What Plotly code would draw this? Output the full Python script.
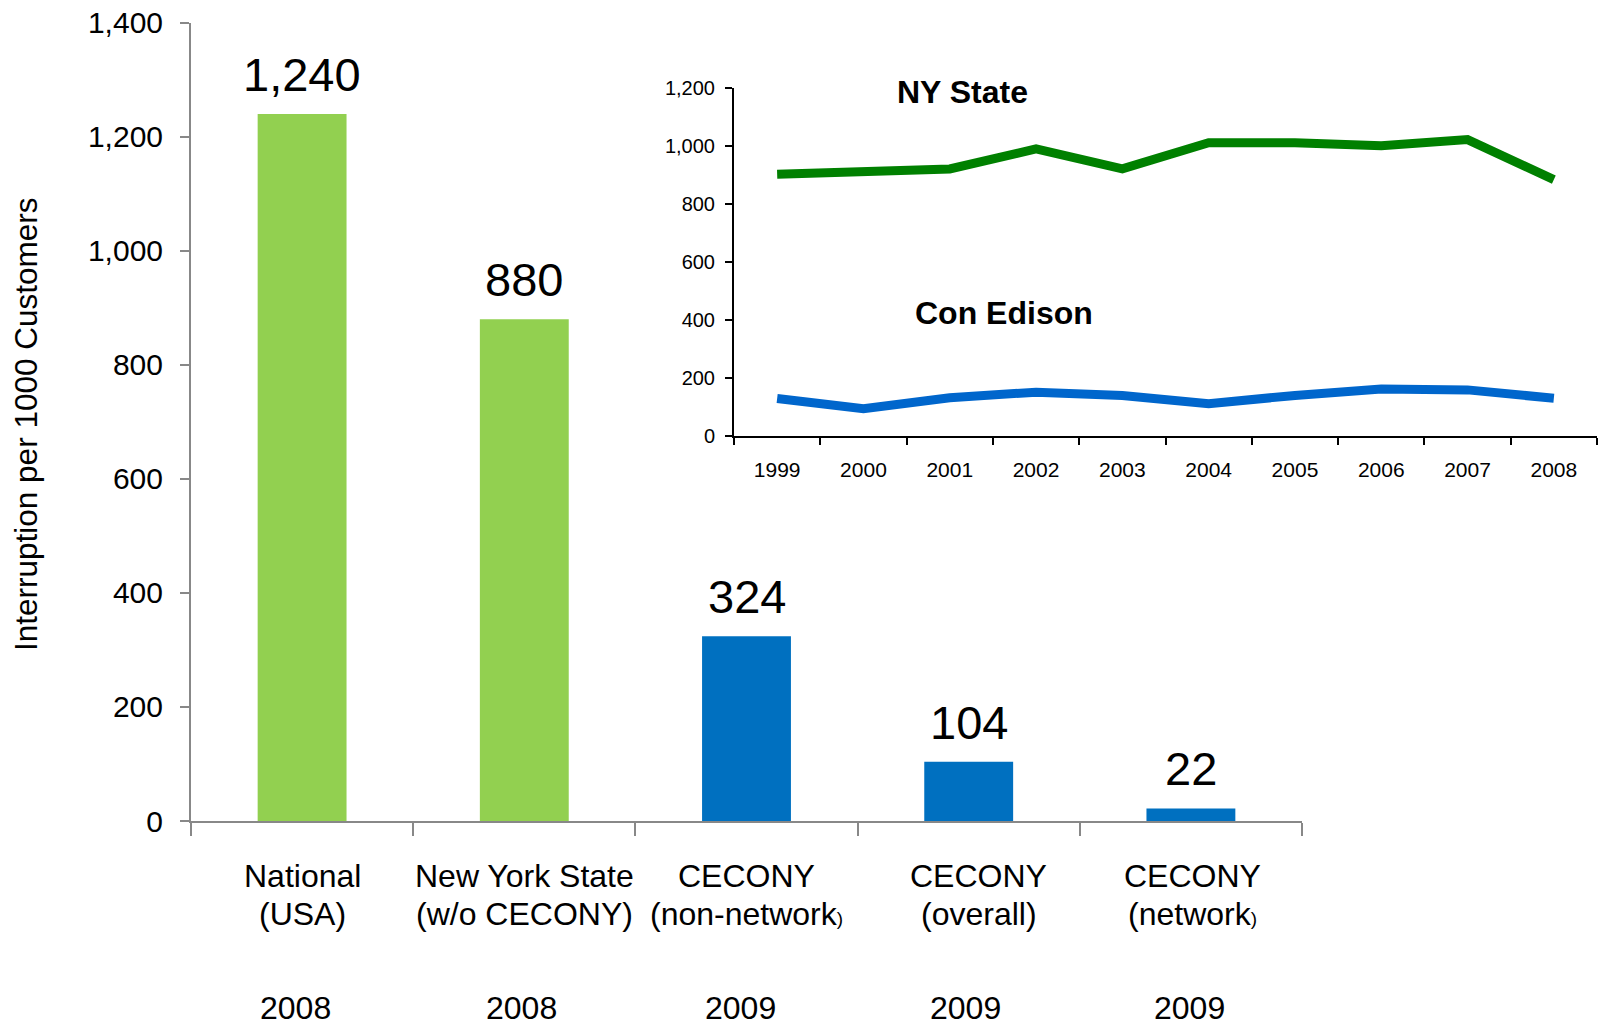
import plotly.graph_objects as go

# ---- main bar chart data ----
bar_categories = ["National (USA)", "New York State (w/o CECONY)", "CECONY (non-network)",
                  "CECONY (overall)", "CECONY (network)"]
bar_values = [1240, 880, 324, 104, 22]
bar_colors = ["#92D050", "#92D050", "#0070C0", "#0070C0", "#0070C0"]
label_line1 = ["National", "New York State", "CECONY", "CECONY", "CECONY"]
label_line2 = ["(USA)", "(w/o CECONY)", "(non-network<span style='font-size:19px'>)</span>",
               "(overall)", "(network<span style='font-size:19px'>)</span>"]
label_years = ["2008", "2008", "2009", "2009", "2009"]
main_yticks = [0, 200, 400, 600, 800, 1000, 1200, 1400]

# ---- inset line chart data ----
inset_years = ["1999", "2000", "2001", "2002", "2003", "2004", "2005", "2006", "2007", "2008"]
ny_state = [903, 912, 921, 990, 921, 1011, 1011, 1001, 1022, 884]
con_edison = [129, 94, 132, 151, 140, 111, 140, 162, 159, 130]
inset_yticks = [0, 200, 400, 600, 800, 1000, 1200]

FONT = "Liberation Sans, Arial, sans-serif"
W, H = 1598, 1026

fig = go.Figure()

fig.add_trace(go.Bar(
    x=bar_categories, y=bar_values, marker=dict(color=bar_colors, line=dict(width=0)),
    width=0.4, xaxis="x", yaxis="y", showlegend=False, hoverinfo="x+y",
))

fig.add_trace(go.Scatter(
    x=inset_years, y=ny_state, mode="lines", line=dict(color="#008000", width=9),
    xaxis="x2", yaxis="y2", showlegend=False, name="NY State",
))
fig.add_trace(go.Scatter(
    x=inset_years, y=con_edison, mode="lines", line=dict(color="#0066CC", width=9),
    xaxis="x2", yaxis="y2", showlegend=False, name="Con Edison",
))

annotations = []
# bar value labels
for c, v in zip(bar_categories, bar_values):
    annotations.append(dict(
        x=c, y=v, xref="x", yref="y", text=f"{v:,}", showarrow=False,
        yanchor="bottom", yshift=11, font=dict(family=FONT, size=47, color="black"),
    ))
# category labels
xshifts = [0, 0, 0, 10, 2]
yshifts = [-7, -3, -6, -3, -1]
for c, l1, l2, yr, xs, ys in zip(bar_categories, label_line1, label_line2, label_years, xshifts, yshifts):
    annotations.append(dict(x=c, y=1 - 876 / H, xref="x", yref="paper", text=l1, showarrow=False,
                            yanchor="middle", xshift=xs, font=dict(family=FONT, size=32, color="black")))
    annotations.append(dict(x=c, y=1 - 914 / H, xref="x", yref="paper", text=l2, showarrow=False,
                            yanchor="middle", xshift=xs, font=dict(family=FONT, size=32, color="black")))
    annotations.append(dict(x=c, y=1 - 1008 / H, xref="x", yref="paper", text=yr, showarrow=False,
                            yanchor="middle", xshift=ys, font=dict(family=FONT, size=32, color="black")))
# y axis title
annotations.append(dict(x=25.5 / W, y=1 - 424.5 / H, xref="paper", yref="paper",
                        text="Interruption per 1000 Customers", textangle=-90, showarrow=False,
                        xanchor="center", yanchor="middle",
                        font=dict(family=FONT, size=31.5, color="black")))
# inset series labels
annotations.append(dict(x=962 / W, y=1 - 91.7 / H, xref="paper", yref="paper", text="<b>NY State</b>",
                        showarrow=False, xanchor="center", yanchor="middle",
                        font=dict(family=FONT, size=32, color="black")))
annotations.append(dict(x=1004 / W, y=1 - 313 / H, xref="paper", yref="paper", text="<b>Con Edison</b>",
                        showarrow=False, xanchor="center", yanchor="middle",
                        font=dict(family=FONT, size=32, color="black")))

fig.update_layout(
    width=W, height=H,
    margin=dict(l=0, r=0, t=0, b=0, autoexpand=False),
    paper_bgcolor="white", plot_bgcolor="rgba(0,0,0,0)",
    font=dict(family=FONT, color="black"),
    xaxis=dict(
        domain=[191 / W, 1302 / W], type="category", range=[-0.5, 4.5], automargin=False,
        showticklabels=False, tickson="boundaries", ticks="outside", ticklen=13,
        tickcolor="#888888", tickwidth=2, showline=True, linecolor="#888888", linewidth=2,
        showgrid=False, zeroline=False, anchor="y",
    ),
    yaxis=dict(
        domain=[1 - 821 / H, 1 - 22.7 / H], range=[0, 1400], tickvals=main_yticks, automargin=False,
        tickformat=",", ticks="outside", ticklen=9, tickcolor="#888888", tickwidth=2,
        showline=True, linecolor="#888888", linewidth=2, showgrid=False, zeroline=False,
        tickfont=dict(family=FONT, size=30, color="black"), ticklabelstandoff=11, anchor="x",
    ),
    xaxis2=dict(
        domain=[734 / W, 1597 / W], type="category", range=[-0.5, 9.5], automargin=False,
        tickson="boundaries", ticks="outside", ticklen=7, tickcolor="black", tickwidth=2,
        showline=True, linecolor="black", linewidth=2, showgrid=False, zeroline=False,
        tickfont=dict(family=FONT, size=21, color="black"), ticklabelstandoff=14, anchor="y2",
    ),
    yaxis2=dict(
        domain=[1 - 436 / H, 1 - 88 / H], range=[0, 1200], tickvals=inset_yticks, automargin=False,
        tickformat=",", ticks="outside", ticklen=7, tickcolor="black", tickwidth=2,
        showline=True, linecolor="black", linewidth=2, showgrid=False, zeroline=False,
        tickfont=dict(family=FONT, size=20, color="black"), ticklabelstandoff=6, anchor="x2",
    ),
    annotations=annotations,
)

fig.write_html("out.html", config={"displayModeBar": False},
               post_script="document.body.style.margin='0';document.body.style.overflow='hidden';")
